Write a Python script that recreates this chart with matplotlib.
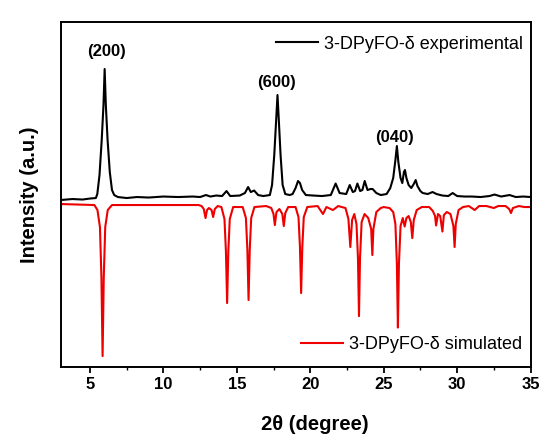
import matplotlib
matplotlib.use("Agg")
import matplotlib.pyplot as plt

plt.rcParams['font.family'] = ['Liberation Sans', 'DejaVu Sans']

# ---- data (2-theta in degrees, intensity in a.u.) ----
exp_2theta = [3.0, 3.8, 4.5, 5.0, 5.4, 5.5, 5.65, 5.8, 5.92, 6.0, 6.08, 6.2, 6.35, 6.5, 6.65,
              6.9, 7.5, 8.2, 9.0, 10.0, 11.0, 12.0, 12.5, 12.9, 13.2, 13.6,
              14.0, 14.3, 14.55, 15.2, 15.55, 15.77, 15.95, 16.18, 16.45, 16.8,
              17.25, 17.4, 17.55, 17.68, 17.77, 17.86, 17.98, 18.12, 18.3, 18.6,
              18.8, 19.0, 19.17, 19.3, 19.45, 19.7, 20.2, 20.8, 21.4, 21.73, 22.0,
              22.45, 22.69, 22.9, 23.05, 23.21, 23.4, 23.55, 23.71, 23.9, 24.1, 24.25, 24.5, 24.8,
              25.2, 25.45, 25.65, 25.8, 25.9, 26.0, 26.15, 26.27, 26.38, 26.45, 26.55, 26.7,
              26.88, 27.05, 27.18, 27.3, 27.5, 27.66, 28.0, 28.33, 28.6,
              29.0, 29.4, 29.7, 30.0, 30.5, 31.0, 31.6, 32.2, 32.55, 33.0, 33.57, 34.0, 34.5, 35.0]
exp_intensity = [0, 1, 0.5, 1.5, 2, 6, 25, 60, 95, 131, 95, 60, 28, 10, 5,
                 3, 2, 3, 2.5, 3.5, 3, 3.5, 3, 5, 3.5, 4.5,
                 4, 9, 4, 4.5, 7, 13, 8, 9.5, 5, 4,
                 5, 15, 45, 80, 105, 80, 45, 15, 6, 5,
                 6, 12, 19, 17, 10, 5, 4.5, 4, 5, 16.5, 7,
                 6, 15, 8, 9, 16.5, 9, 10, 19, 10, 11, 11, 7, 5,
                 6, 12, 22, 40, 54, 38, 22, 17, 28, 30, 22, 15,
                 12, 16, 20, 14, 9, 7, 6, 8, 6,
                 4.5, 4, 7, 4, 3.5, 3.5, 3, 4, 5.5, 3.5, 5, 3, 3.5, 3]

sim_2theta = [3.0, 5.3, 5.51, 5.68, 5.78, 5.86, 5.94, 6.04, 6.21, 6.5, 12.4,
              12.6, 12.75, 12.87, 12.97, 13.1, 13.28, 13.39, 13.5, 13.7,
              13.95, 14.16, 14.26, 14.34, 14.42, 14.52, 14.75,
              15.4, 15.62, 15.72, 15.8, 15.88, 15.98, 16.2,
              17.0, 17.35, 17.5, 17.59, 17.7, 17.9, 18.1, 18.2, 18.3, 18.5,
              19.0, 19.2, 19.3, 19.38, 19.46, 19.56, 19.8,
              20.5, 20.87, 21.1, 21.55, 21.9,
              22.4, 22.6, 22.73, 22.85, 23.0, 23.15, 23.25, 23.32, 23.39, 23.5, 23.7, 23.95,
              24.15, 24.23, 24.3, 24.5, 24.8,
              25.0, 25.4, 25.65, 25.8, 25.9, 25.97, 26.04, 26.15, 26.3, 26.43, 26.55, 26.7,
              26.85, 26.95, 27.05, 27.25, 27.6,
              28.1, 28.35, 28.5, 28.57, 28.7, 28.85, 29.0, 29.1, 29.3, 29.55, 29.75, 29.83,
              29.91, 30.1, 30.4,
              30.8, 31.2, 31.5, 32.0, 32.5, 32.8, 33.3, 33.55, 33.67, 33.8, 34.2, 34.6, 35.0]
sim_intensity = [0, 1, 6, 23, 73, 152, 73, 23, 6, 1, 1,
                 2, 5, 14, 6, 4, 6, 13, 5, 2,
                 3, 15, 48, 99, 48, 15, 3,
                 3, 14, 46, 96, 46, 14, 3,
                 2, 4, 10, 21, 8, 5, 10, 22, 9, 3,
                 3, 13, 43, 89, 43, 13, 3,
                 2, 10, 3, 6, 2,
                 4, 15, 43, 16, 10, 20, 54, 112, 54, 18, 10, 14,
                 25, 51, 25, 8, 4,
                 3, 4, 8, 20, 60, 123.5, 60, 22, 14, 22.5, 14, 12,
                 18, 34, 16, 6, 3,
                 3, 7, 12, 21.5, 10, 12, 27.5, 11, 8, 10, 22, 43,
                 20, 6, 3,
                 2, 6, 2, 2, 4, 2, 2, 5, 9, 4, 2, 3, 3]

peak_labels = ["(200)", "(600)", "(040)"]
peak_label_x = [6.14, 17.7, 25.75]
peak_label_y = [315, 284, 230]

series_names = ["3-DPyFO-\u03b4 experimental", "3-DPyFO-\u03b4 simulated"]

x_ticks = [5, 10, 15, 20, 25, 30, 35]

# ---- figure ----
fig = plt.figure(figsize=(5.42, 4.37), dpi=100)
ax = fig.add_axes([0.1118, 0.160, 0.867, 0.7897])

exp_offset = 167
sim_offset = 163
exp_y = [exp_offset + v for v in exp_intensity]
sim_y = [sim_offset - v for v in sim_intensity]

l1, = ax.plot(exp_2theta, exp_y, color='black', lw=1.5, label=series_names[0])
l2, = ax.plot(sim_2theta, sim_y, color='#ee0000', lw=1.5, label=series_names[1])

ax.set_xlim(3, 35)
ax.set_ylim(0, 345)
ax.set_xticks(x_ticks)
ax.set_xticks([7.5, 12.5, 17.5, 22.5, 27.5, 32.5], minor=True)
ax.set_yticks([])
ax.tick_params(axis='x', which='major', direction='out', length=4, width=1.3, pad=3.5,
               labelsize=12)
ax.tick_params(axis='x', which='minor', direction='out', length=2.5, width=1.0)
for lab in ax.get_xticklabels():
    lab.set_fontweight('bold')
for s in ax.spines.values():
    s.set_linewidth(1.4)

for t, xx, yy in zip(peak_labels, peak_label_x, peak_label_y):
    ax.text(xx, yy, t, ha='center', va='center', fontsize=12, fontweight='bold')

leg1 = ax.legend(handles=[l1], loc='center right', bbox_to_anchor=(0.984, 0.936),
                 frameon=False, fontsize=13, handlelength=2.3, handletextpad=0.35,
                 borderpad=0, borderaxespad=0)
ax.add_artist(leg1)
ax.legend(handles=[l2], loc='center right', bbox_to_anchor=(0.982, 0.064),
          frameon=False, fontsize=13, handlelength=2.3, handletextpad=0.35,
          borderpad=0, borderaxespad=0)

ax.set_xlabel("2\u03b8 (degree)", fontsize=14.5, fontweight='bold')
ax.xaxis.set_label_coords(0.542, -0.14)
ax.set_ylabel("Intensity (a.u.)", fontsize=14.5, fontweight='bold')
ax.yaxis.set_label_coords(-0.045, 0.5)

fig.savefig("out.png", dpi=100)
